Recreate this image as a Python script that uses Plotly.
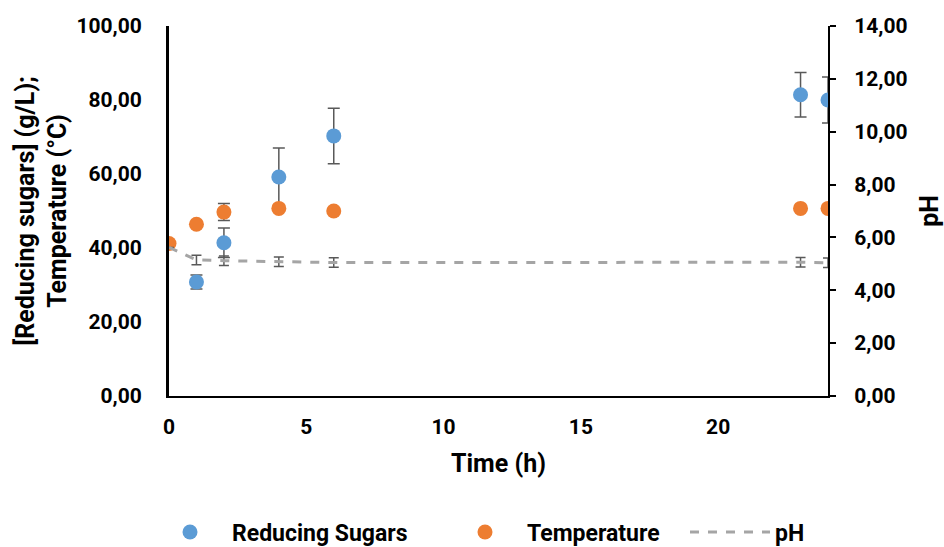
import plotly.graph_objects as go

# Sampling times (h)
time_h = [0, 1, 2, 4, 6, 23, 24]

# Reducing sugars (g/L) with standard deviations
sugars_t = [1, 2, 4, 6, 23, 24]
sugars = [30.8, 41.4, 59.2, 70.3, 81.4, 80.0]
sugars_sd = [1.9, 4.0, 7.8, 7.5, 6.0, 6.2]

# Temperature (°C) with standard deviations
temperature = [41.2, 46.4, 49.7, 50.7, 50.0, 50.7, 50.7]
temperature_sd = [0.0, 0.6, 2.3, 0.5, 0.5, 0.5, 0.5]

# pH with standard deviations
ph = [5.62, 5.15, 5.12, 5.08, 5.05, 5.06, 5.04]
ph_sd = [0.0, 0.18, 0.18, 0.18, 0.18, 0.18, 0.18]

x_ticks = [0, 5, 10, 15, 20]
left_ticks = [0, 20, 40, 60, 80, 100]
right_ticks = [0, 2, 4, 6, 8, 10, 12, 14]

FONT = "Roboto"
ERR_COLOR = "#595959"
W, H = 944, 547


def font(size):
    return dict(family=FONT, size=size, color="black", weight="bold")


fig = go.Figure()

fig.add_trace(go.Scatter(
    x=sugars_t, y=sugars, mode="markers", name="Reducing Sugars", legend="legend",
    marker=dict(color="#5B9BD5", size=15),
    error_y=dict(type="data", array=sugars_sd, color=ERR_COLOR, thickness=1.5, width=6),
))
fig.add_trace(go.Scatter(
    x=time_h, y=temperature, mode="markers", name="Temperature", legend="legend2",
    marker=dict(color="#ED7D31", size=15),
    error_y=dict(type="data", array=temperature_sd, color=ERR_COLOR, thickness=1.5, width=6),
))
fig.add_trace(go.Scatter(
    x=time_h, y=ph, mode="lines", name="pH", yaxis="y2", legend="legend3",
    line=dict(color="#A5A5A5", width=3, dash="dash"),
    error_y=dict(type="data", array=ph_sd, color=ERR_COLOR, thickness=1.5, width=5),
))


def legend_box(left_px, item_width):
    return dict(
        orientation="h", xref="container", yref="container",
        x=left_px / W, xanchor="left", y=1 - 532 / H, yanchor="middle",
        font=font(23), itemwidth=item_width,
        bgcolor="rgba(0,0,0,0)",
    )


fig.update_layout(
    width=W, height=H,
    margin=dict(l=169, r=116, t=26, b=151, autoexpand=False),
    paper_bgcolor="white", plot_bgcolor="white",
    separators=",.",
    font=font(21),
    showlegend=True,
    legend=legend_box(148, 74),
    legend2=legend_box(443, 74),
    legend3=legend_box(685, 80),
    xaxis=dict(
        range=[0, 24], tickvals=x_ticks, showgrid=False, zeroline=False,
        showline=True, linecolor="black", linewidth=2, ticks="",
        ticklabelstandoff=11, automargin=False, tickfont=font(21),
        title=dict(text="Time (h)", standoff=16, font=font(25)),
    ),
    yaxis=dict(
        range=[0, 100], tickvals=left_ticks, tickformat=".2f", showgrid=False,
        zeroline=False, showline=True, linecolor="black", linewidth=3, ticks="",
        ticklabelstandoff=20, automargin=False, tickfont=font(21),
        title=dict(text="[Reducing sugars] (g/L);<br>Temperature (°C)", standoff=3,
                   font=font(25)),
    ),
    yaxis2=dict(
        range=[0, 14], tickvals=right_ticks, tickformat=".2f", overlaying="y",
        side="right", showgrid=False, zeroline=False, showline=True,
        linecolor="black", linewidth=2, ticks="outside", ticklen=6, tickwidth=2,
        tickcolor="black", ticklabelstandoff=14, automargin=False, tickfont=font(21),
        title=dict(text="pH", standoff=21, font=font(25)),
    ),
)

fig.write_html("out.html")
